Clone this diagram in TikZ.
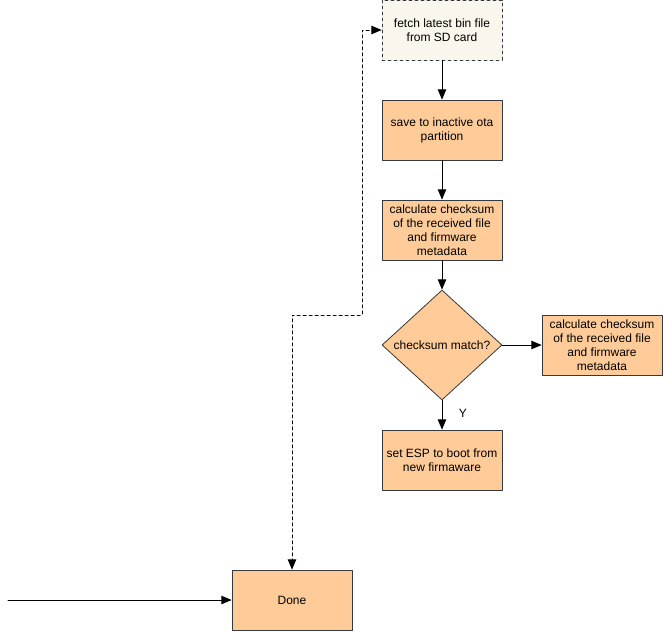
\documentclass[tikz,border=0pt]{standalone}
\usepackage{fontspec}
\setmainfont{Liberation Sans}
\usetikzlibrary{arrows}
\usetikzlibrary{positioning}
\usetikzlibrary{shapes.geometric}
\definecolor{boxfill}{HTML}{FFCC99}
\definecolor{notefill}{HTML}{F9F7ED}
\definecolor{boxline}{HTML}{36393D}
\tikzset{
  procbox/.style={draw=boxline,fill=boxfill,minimum width=90pt,minimum height=45pt,
    align=center,font=\fontsize{9}{10.5}\selectfont,inner sep=0pt,line width=0.6pt},
  notebox/.style={procbox,fill=notefill,dash pattern=on 2.25pt off 2.25pt},
  decide/.style={diamond,draw=boxline,fill=boxfill,minimum width=90pt,minimum height=82.5pt,
    aspect=1.09,font=\fontsize{9}{10.5}\selectfont,inner sep=0pt,line width=0.6pt},
  flow/.style={->,line width=0.75pt},
}
\begin{document}
\begin{tikzpicture}[line cap=round,line join=round,>=triangle 45,x=0.75pt,y=-0.75pt]
\useasboundingbox (0,0) rectangle (663,632);
\node[notebox] (fetch) at (442,30) {fetch latest bin file\\from SD card};
\node[procbox] (save) at (442,130) {save to inactive ota\\partition};
\node[procbox] (checksum) at (442,230) {calculate checksum\\of the received file\\and firmware\\metadata};
\node[decide] (match) at (442,345) {checksum match?};
\node[procbox] (retry) at (602,345) {calculate checksum\\of the received file\\and firmware\\metadata};
\node[procbox] (setboot) at (442,460) {set ESP to boot from\\new firmaware};
\node[procbox] (done) at (292,600) {Done};
\coordinate (start) at (8,600);
\draw [flow] (fetch) -- (save);
\draw [flow] (save) -- (checksum);
\draw [flow] (checksum) -- (match);
\draw [flow] (match) -- (retry);
\draw [flow] (match) -- node[right=9pt,pos=0.45,font=\fontsize{9}{10.5}\selectfont] {Y} (setboot);
\draw [flow] (start) -- (done);
\draw [<->,line width=0.75pt,dash pattern=on 2.25pt off 2.25pt] (done.north) |- (362,315) |- (fetch.west);
\end{tikzpicture}
\end{document}
